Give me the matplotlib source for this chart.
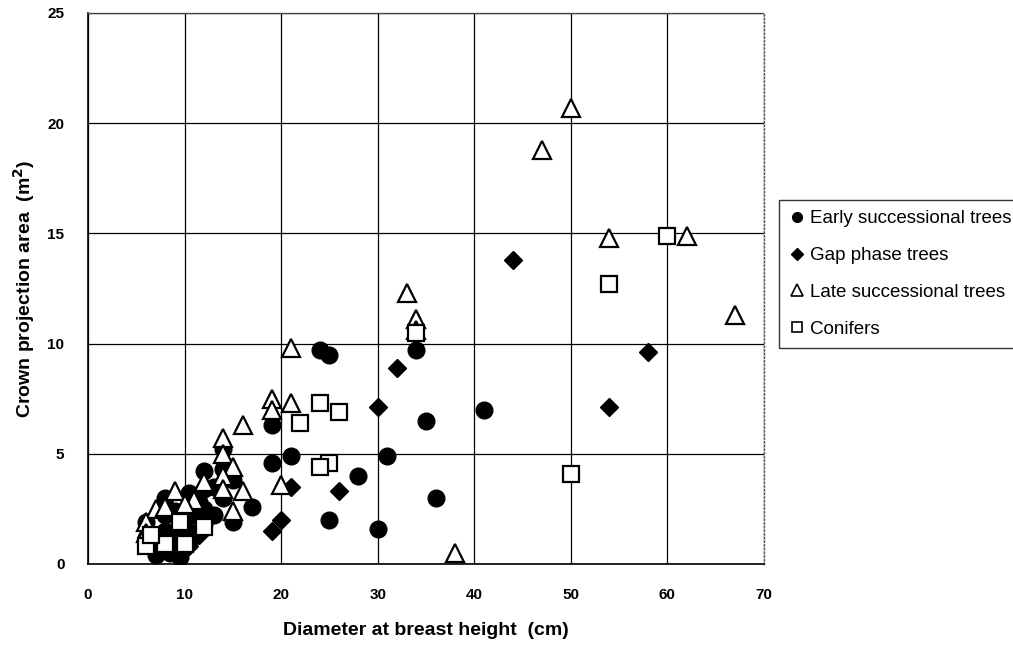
import matplotlib
matplotlib.use('Agg')
import matplotlib.pyplot as plt

plt.rcParams['font.family'] = ['Liberation Sans', 'DejaVu Sans']

# Early successional trees (dbh cm, crown area m2)
early_x = [24, 25, 34, 41, 35, 19, 19, 21, 31, 28, 36, 25, 30,
           17, 15, 15, 14, 14, 14, 12, 12, 12, 13, 13,
           6, 6, 7, 7, 7.5, 8, 8, 8, 8.5, 9, 9, 9.5, 10, 10, 10.5, 11, 11, 11.5, 12]
early_y = [9.7, 9.5, 9.7, 7.0, 6.5, 6.3, 4.6, 4.9, 4.9, 4.0, 3.0, 2.0, 1.6,
           2.6, 1.9, 3.8, 4.3, 3.0, 5.2, 4.2, 3.4, 2.5, 3.5, 2.2,
           1.9, 1.2, 0.4, 1.3, 0.8, 3.0, 2.2, 1.5, 0.5, 2.4, 1.3, 0.3, 2.0, 1.6, 3.2, 2.2, 1.4, 2.8, 1.8]

# Gap phase trees
gap_x = [44, 58, 54, 32, 30, 21, 26, 20, 19, 10, 11, 9, 12, 10.5, 11.5]
gap_y = [13.8, 9.6, 7.1, 8.9, 7.1, 3.5, 3.3, 2.0, 1.5, 1.0, 1.2, 0.6, 2.0, 0.8, 1.3]

# Late successional trees
late_x = [50, 47, 54, 62, 67, 33, 34, 34, 38, 21, 19, 19, 21, 20,
          16, 14, 14, 15, 14, 12, 14, 16, 15, 11, 9, 10, 7, 8, 6, 6]
late_y = [20.7, 18.8, 14.8, 14.9, 11.3, 12.3, 11.1, 10.6, 0.5, 9.8, 7.5, 7.0, 7.3, 3.6,
          6.3, 5.7, 5.0, 4.4, 4.0, 3.7, 3.4, 3.3, 2.4, 2.9, 3.3, 2.7, 2.5, 2.6, 1.9, 1.4]

# Conifers
con_x = [60, 54, 50, 34, 24, 26, 22, 25, 24, 12, 10, 8, 6, 6.5, 9.5]
con_y = [14.9, 12.7, 4.1, 10.5, 7.3, 6.9, 6.4, 4.6, 4.4, 1.7, 0.9, 0.9, 0.8, 1.3, 1.9]

fig = plt.figure(figsize=(10.13, 6.49), dpi=100)
ax = fig.add_axes([0.0869, 0.1310, 0.6673, 0.8490])

ax.plot(early_x, early_y, 'o', ms=12, color='black', mec='black', ls='none', zorder=3)
ax.plot(gap_x, gap_y, 'D', ms=9.3, color='black', mec='black', ls='none', zorder=3)
ax.plot(late_x, late_y, '^', ms=13, mfc='white', mec='black', mew=1.6, ls='none', zorder=4)
ax.plot(con_x, con_y, 's', ms=11.5, mfc='white', mec='black', mew=1.6, ls='none', zorder=5)

ax.set_xlim(0, 70)
ax.set_ylim(0, 25)
ax.set_xticks(range(0, 71, 10))
ax.set_yticks(range(0, 26, 5))
ax.grid(True, color='black', lw=0.9)
ax.set_axisbelow(True)
ax.tick_params(length=0, pad=17, labelsize=11)
for lab in ax.get_xticklabels() + ax.get_yticklabels():
    lab.set_fontweight('bold')

for s in ['left', 'bottom']:
    ax.spines[s].set_color('black')
    ax.spines[s].set_linewidth(1.2)
for s in ['top', 'right']:
    ax.spines[s].set_color('#555555')
    ax.spines[s].set_linestyle(':')
    ax.spines[s].set_linewidth(1.0)

ax.set_xlabel('Diameter at breast height  (cm)', fontsize=14, fontweight='bold')
ax.set_ylabel('Crown projection area  (m$^\\mathbf{2}$)', fontsize=14, fontweight='bold')
ax.xaxis.set_label_coords(0.5, -0.105)
ax.yaxis.set_label_coords(-0.075, 0.5)

# legend handles (small markers)
h1, = ax.plot([], [], 'o', ms=7, color='black', ls='none')
h2, = ax.plot([], [], 'D', ms=6, color='black', ls='none')
h3, = ax.plot([], [], '^', ms=8, mfc='white', mec='black', mew=1.2, ls='none')
h4, = ax.plot([], [], 's', ms=7, mfc='white', mec='black', mew=1.2, ls='none')
leg = fig.legend([h1, h2, h3, h4],
                 ['Early successional trees', 'Gap phase trees',
                  'Late successional trees', 'Conifers'],
                 loc='upper left', bbox_to_anchor=(779 / 1013, 1 - 200 / 649),
                 fontsize=13.5, frameon=True, fancybox=False, edgecolor='black',
                 handlelength=0.8, handletextpad=0.3, labelspacing=1.05,
                 borderpad=0.55, borderaxespad=0)
leg.get_frame().set_linewidth(1.0)

fig.savefig('out.png', dpi=100)
